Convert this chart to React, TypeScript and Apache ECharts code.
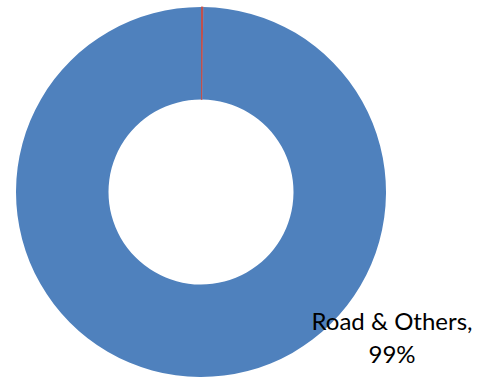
import React, { useEffect, useRef } from "react";
import * as echarts from "echarts";

const categories = ["Rail", "Road & Others"];
const values = [0.2, 99.8];
const labelTexts = ["", "Road & Others,\n99%"];
const colors = ["#C0504D", "#4F81BD"];

export default function App() {
  const ref = useRef<HTMLDivElement>(null);
  useEffect(() => {
    if (!ref.current) return;
    const chart = echarts.init(ref.current, null, { renderer: "svg" });
    chart.setOption({
      animation: false,
      series: [
        {
          type: "pie",
          center: [201, 192],
          radius: [92.5, 185],
          startAngle: 90,
          clockwise: true,
          silent: true,
          avoidLabelOverlap: false,
          data: categories.map((name, i) => ({
            name,
            value: values[i],
            itemStyle: i === 0
              ? { color: colors[i], borderColor: colors[i], borderWidth: 0.8 }
              : { color: colors[i] },
            label: { show: labelTexts[i] !== "" },
          })),
          label: {
            position: "outside",
            formatter: (p: any) => labelTexts[p.dataIndex],
            color: "#000",
            fontFamily: "Lato",
            fontSize: 24,
            lineHeight: 33,
            align: "center",
          },
          labelLine: { show: false },
          labelLayout: (params: any) =>
            params.dataIndex === 1
              ? { x: 392, y: 337, align: "center", verticalAlign: "middle" }
              : {},
        },
      ],
    });
    return () => chart.dispose();
  }, []);
  return (
    <div
      ref={ref}
      style={{ position: "fixed", left: 0, top: 0, width: 481, height: 378, background: "#fff" }}
    />
  );
}
